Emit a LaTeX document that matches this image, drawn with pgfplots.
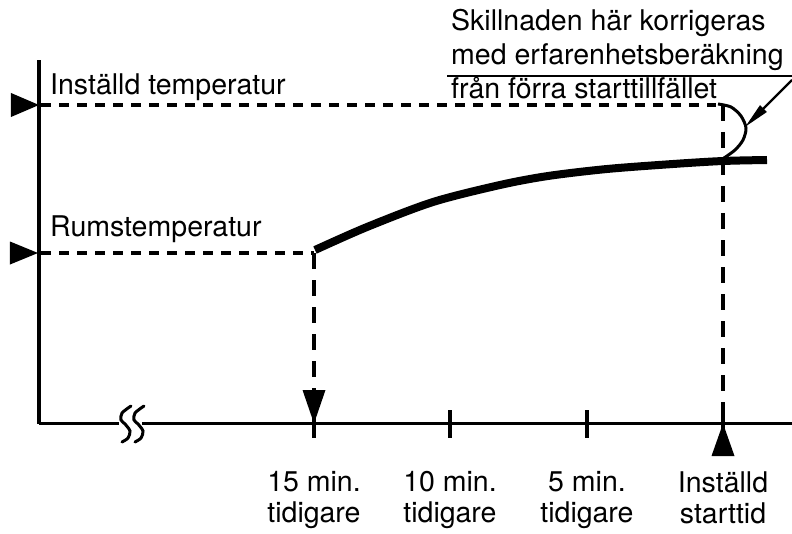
\documentclass[border=0pt]{standalone}
\usepackage{pgfplots}
\pgfplotsset{compat=1.18}
\usepackage{fontspec}
\setmainfont{TeX Gyre Heros}
\usetikzlibrary{arrows.meta}
\begin{document}
\begin{tikzpicture}
\begin{axis}[
  scale only axis, width=753pt, height=363.5pt,
  xmin=39, xmax=792, ymin=109.5, ymax=473,
  axis lines=left,
  axis line style={-, line width=3.6pt, line cap=butt, black},
  clip=false,
  ytick=\empty,
  xtick={314,450,587,723},
  xticklabels={{15 min.\\tidigare},{10 min.\\tidigare},{5 min.\\tidigare},{Inställd\\starttid}},
  xticklabel style={align=center, anchor=north, inner sep=0pt, yshift=-34pt,
    font=\fontsize{28.5}{31}\selectfont},
  major tick length=28pt, tick align=center,
  tick style={line width=3.2pt, black},
  /pgf/number format/assume math mode=true,
]
\coordinate (bl) at (axis cs:0,0);
\coordinate (tr) at (axis cs:792,533);
% axis break
\addplot[white, line width=6pt] coordinates {(119,109.5) (142,109.5)};
\addplot[smooth, line width=3pt, line cap=round] coordinates {(131,127) (122,120) (121,113) (125,109) (130,102) (128,95) (122,91)};
\addplot[smooth, line width=3pt, line cap=round] coordinates {(144,127) (135,120) (134,113) (138,109) (143,102) (141,95) (135,91)};
% dashed guides
\addplot[line width=3.6pt, dash pattern=on 10pt off 8pt] coordinates {(41,428) (716,428)};
\addplot[line width=3.6pt, dash pattern=on 16pt off 11pt] coordinates {(723,428) (723,109.5)};
\addplot[line width=3.6pt, dash pattern=on 10pt off 8pt] coordinates {(41,280) (314,280)};
\addplot[line width=3.6pt, dash pattern=on 16pt off 11pt] coordinates {(314,280) (314,109.5)};
% temperature curve
\addplot[line width=8pt, smooth] coordinates {(315,283) (367,306) (433,331) (500,348) (548,357) (607,364) (673,369) (723,372) (767,373)};
% triangles
\addplot[fill=black, draw=none] coordinates {(11,440) (39,428) (11,416)} -- cycle;
\addplot[fill=black, draw=none] coordinates {(10,291.5) (38,280) (10,268.5)} -- cycle;
\addplot[fill=black, draw=none] coordinates {(302.5,143) (325.5,143) (314,109.5)} -- cycle;
\addplot[fill=black, draw=none] coordinates {(711.5,77) (734.5,77) (723,109.5)} -- cycle;
% annotation
\addplot[smooth, line width=3pt] coordinates {(718,429) (731,426) (741,417) (746,405) (743,393) (735,383) (724,375)};
\addplot[line width=2.2pt, -{Triangle[length=26pt,width=9pt]}] coordinates {(792,453) (745,406)};
\addplot[line width=2.2pt] coordinates {(447,457) (792,457)};
\node[anchor=base west, inner sep=0pt, font=\fontsize{28.5}{34}\selectfont] at (axis cs:50,438) {Inställd temperatur};
\node[anchor=base west, inner sep=0pt, font=\fontsize{28.5}{34}\selectfont] at (axis cs:50,296) {Rumstemperatur};
\node[anchor=base west, inner sep=0pt, font=\fontsize{28.5}{34}\selectfont] at (axis cs:451,502) {Skillnaden här korrigeras};
\node[anchor=base west, inner sep=0pt, font=\fontsize{28.5}{34}\selectfont] at (axis cs:451,468) {med erfarenhetsberäkning};
\node[anchor=base west, inner sep=0pt, font=\fontsize{28.5}{34}\selectfont] at (axis cs:451,434) {från förra starttillfället};
\end{axis}
\pgfresetboundingbox
\useasboundingbox (bl) rectangle (tr);
\end{tikzpicture}
\end{document}
